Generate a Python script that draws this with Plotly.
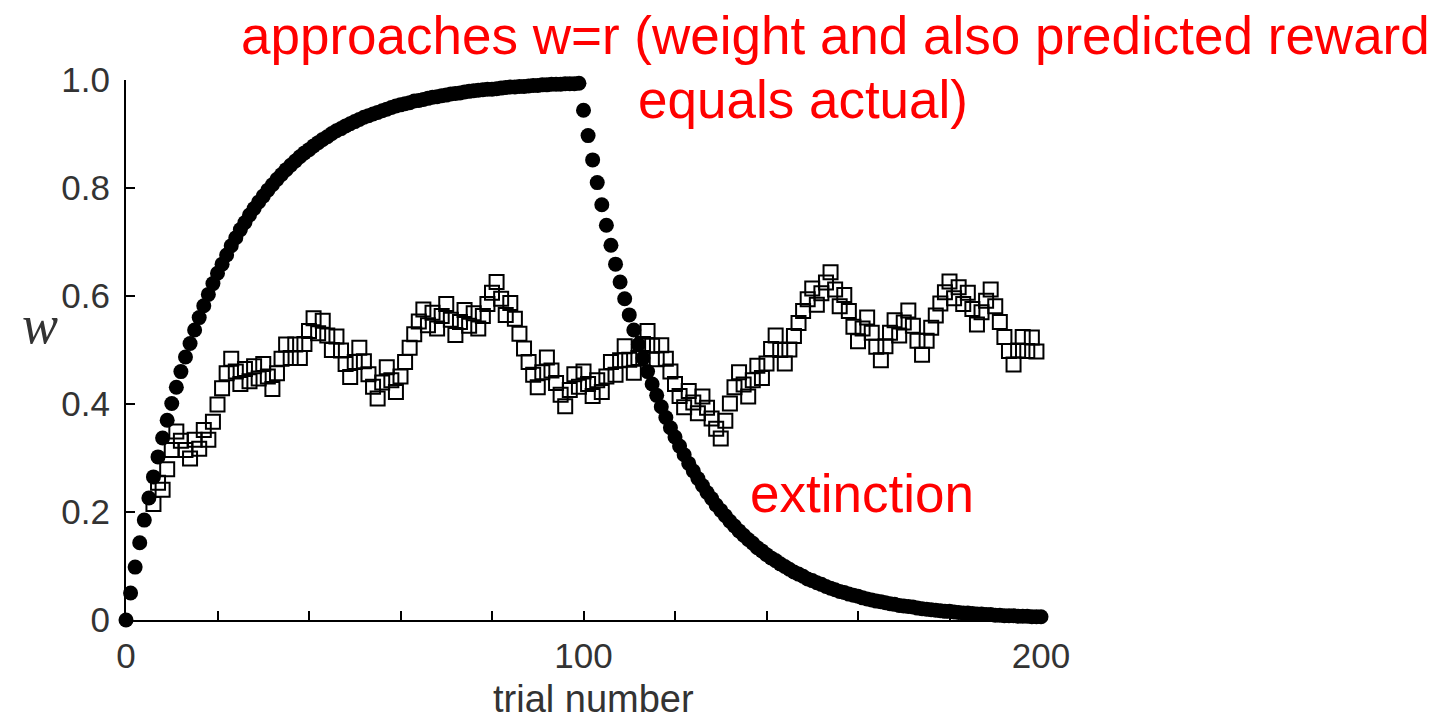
import plotly.graph_objects as go

# ---- data ----
trials = list(range(0, 201))

# filled circles: weight w, reward r=1 for trials 0-99, r=0 afterwards (extinction)
w_full = [
    0.000, 0.050, 0.098, 0.143, 0.185, 0.226, 0.265, 0.302, 0.337, 0.370,
    0.401, 0.431, 0.460, 0.487, 0.512, 0.537, 0.560, 0.582, 0.603, 0.623,
    0.642, 0.659, 0.676, 0.693, 0.708, 0.723, 0.736, 0.750, 0.762, 0.774,
    0.785, 0.796, 0.806, 0.816, 0.825, 0.834, 0.842, 0.850, 0.858, 0.865,
    0.871, 0.878, 0.884, 0.890, 0.895, 0.901, 0.906, 0.910, 0.915, 0.919,
    0.923, 0.927, 0.931, 0.934, 0.937, 0.940, 0.943, 0.946, 0.949, 0.952,
    0.954, 0.956, 0.958, 0.961, 0.962, 0.964, 0.966, 0.968, 0.969, 0.971,
    0.972, 0.974, 0.975, 0.976, 0.978, 0.979, 0.980, 0.981, 0.982, 0.983,
    0.983, 0.984, 0.985, 0.986, 0.987, 0.987, 0.988, 0.988, 0.989, 0.990,
    0.990, 0.991, 0.991, 0.992, 0.992, 0.992, 0.993, 0.993, 0.993, 0.994,
    0.944, 0.897, 0.852, 0.810, 0.769, 0.731, 0.694, 0.659, 0.626, 0.595,
    0.565, 0.537, 0.510, 0.485, 0.460, 0.437, 0.416, 0.395, 0.375, 0.356,
    0.339, 0.322, 0.306, 0.290, 0.276, 0.262, 0.249, 0.236, 0.225, 0.213,
    0.203, 0.193, 0.183, 0.174, 0.165, 0.157, 0.149, 0.142, 0.134, 0.128,
    0.121, 0.115, 0.110, 0.104, 0.099, 0.094, 0.089, 0.085, 0.081, 0.076,
    0.073, 0.069, 0.066, 0.062, 0.059, 0.056, 0.053, 0.051, 0.048, 0.046,
    0.044, 0.041, 0.039, 0.037, 0.035, 0.034, 0.032, 0.030, 0.029, 0.027,
    0.026, 0.025, 0.024, 0.022, 0.021, 0.020, 0.019, 0.018, 0.017, 0.016,
    0.016, 0.015, 0.014, 0.013, 0.013, 0.012, 0.011, 0.011, 0.010, 0.010,
    0.009, 0.009, 0.008, 0.008, 0.008, 0.007, 0.007, 0.007, 0.006, 0.006,
    0.006,
]

# open squares: weight w with reward given on a random 50% of trials
# (the earliest trials coincide with, and are hidden by, the filled circles)
trials_partial = list(range(6, 200))
w_partial = [
    0.215, 0.254, 0.241, 0.279,
    0.315, 0.349, 0.332, 0.315, 0.299, 0.334, 0.317, 0.352, 0.334, 0.367,
    0.399, 0.429, 0.457, 0.484, 0.460, 0.437, 0.465, 0.442, 0.470, 0.447,
    0.474, 0.451, 0.428, 0.457, 0.484, 0.510, 0.485, 0.510, 0.485, 0.511,
    0.535, 0.559, 0.531, 0.554, 0.527, 0.500, 0.525, 0.499, 0.474, 0.450,
    0.478, 0.504, 0.479, 0.455, 0.432, 0.410, 0.440, 0.468, 0.444, 0.422,
    0.451, 0.478, 0.504, 0.529, 0.553, 0.575, 0.546, 0.569, 0.540, 0.563,
    0.585, 0.556, 0.528, 0.552, 0.574, 0.545, 0.568, 0.540, 0.563, 0.585,
    0.606, 0.626, 0.595, 0.565, 0.587, 0.558, 0.530, 0.503, 0.478, 0.454,
    0.431, 0.459, 0.486, 0.462, 0.439, 0.417, 0.396, 0.426, 0.455, 0.432,
    0.460, 0.437, 0.415, 0.444, 0.422, 0.451, 0.478, 0.454, 0.481, 0.507,
    0.482, 0.458, 0.485, 0.511, 0.535, 0.508, 0.483, 0.509, 0.484, 0.460,
    0.437, 0.415, 0.394, 0.424, 0.403, 0.383, 0.414, 0.393, 0.373, 0.354,
    0.336, 0.369, 0.401, 0.431, 0.459, 0.436, 0.414, 0.444, 0.471, 0.448,
    0.475, 0.502, 0.527, 0.500, 0.475, 0.501, 0.526, 0.550, 0.572, 0.594,
    0.614, 0.584, 0.605, 0.625, 0.644, 0.612, 0.581, 0.602, 0.572, 0.543,
    0.516, 0.540, 0.560, 0.532, 0.506, 0.481, 0.507, 0.532, 0.555, 0.527,
    0.551, 0.573, 0.545, 0.517, 0.491, 0.517, 0.541, 0.564, 0.586, 0.607,
    0.627, 0.596, 0.616, 0.585, 0.606, 0.576, 0.547, 0.570, 0.591, 0.612,
    0.581, 0.552, 0.524, 0.498, 0.473, 0.499, 0.524, 0.498, 0.523, 0.497,
]

x_tickvals = [0, 20, 40, 60, 80, 100, 120, 140, 160, 180, 200]
x_ticktext = ["0", "", "", "", "", "100", "", "", "", "", "200"]
y_tickvals = [0, 0.2, 0.4, 0.6, 0.8, 1.0]
y_ticktext = ["0", "0.2", "0.4", "0.6", "0.8", "1.0"]

fig = go.Figure()
fig.add_trace(go.Scatter(
    x=trials_partial, y=w_partial, mode="markers", cliponaxis=False,
    marker=dict(symbol="square-open", size=14, color="black",
                line=dict(width=2, color="black")),
    showlegend=False,
))
fig.add_trace(go.Scatter(
    x=trials, y=w_full, mode="markers", cliponaxis=False,
    marker=dict(symbol="circle", size=15, color="black",
                line=dict(width=0)),
    showlegend=False,
))

tickfont = dict(family="Liberation Sans, Arial, sans-serif", size=35, color="#333333")

fig.update_layout(
    width=1439, height=722,
    margin=dict(l=126, r=398, t=80, b=102),
    paper_bgcolor="white", plot_bgcolor="white",
    xaxis=dict(range=[0, 200], showgrid=False, zeroline=False,
               showline=True, linecolor="black", linewidth=2,
               ticks="inside", ticklen=9, tickwidth=1.5, tickcolor="black",
               tickvals=x_tickvals, ticktext=x_ticktext, tickfont=tickfont,
               ticklabelstandoff=4),
    yaxis=dict(range=[0, 1], showgrid=False, zeroline=False,
               showline=True, linecolor="black", linewidth=2,
               ticks="inside", ticklen=9, tickwidth=1.5, tickcolor="black",
               tickvals=y_tickvals, ticktext=y_ticktext, tickfont=tickfont,
               ticklabelstandoff=7),
)

red = "#FF0000"
redfont = dict(family="Liberation Sans, Arial, sans-serif", size=53, color=red)
fig.add_annotation(xref="paper", yref="paper", x=0.775, y=1.083,
                   text="approaches w=r (weight and also predicted reward",
                   showarrow=False, font=redfont, xanchor="center", yanchor="middle")
fig.add_annotation(xref="paper", yref="paper", x=0.740, y=0.963,
                   text="equals actual)",
                   showarrow=False, font=redfont, xanchor="center", yanchor="middle")
fig.add_annotation(xref="paper", yref="paper", x=0.804, y=0.235,
                   text="extinction",
                   showarrow=False, font=redfont, xanchor="center", yanchor="middle")
fig.add_annotation(xref="paper", yref="paper", x=-0.094, y=0.546,
                   text="<i>w</i>", showarrow=False,
                   font=dict(family="Liberation Serif, Times New Roman, serif", size=54, color="#333333"),
                   xanchor="center", yanchor="middle")
fig.add_annotation(xref="paper", yref="paper", x=0.511, y=-0.146,
                   text="trial number", showarrow=False,
                   font=dict(family="Liberation Sans, Arial, sans-serif", size=38, color="#333333"),
                   xanchor="center", yanchor="middle")

fig.write_html("out.html")
